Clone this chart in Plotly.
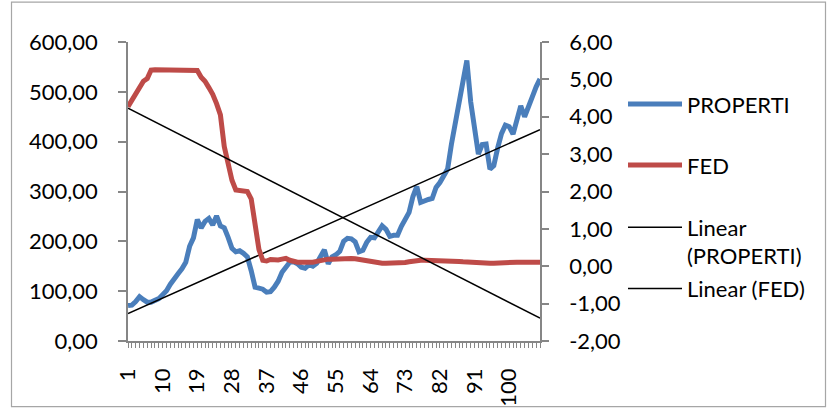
import numpy as np
import plotly.graph_objects as go

# Observation index (1..108)
categories = list(range(1, 109))

# PROPERTI index (left axis)
properti = [71, 72, 79, 89, 83, 78, 78, 81, 85, 93,
            101, 114, 123, 135, 145, 158, 190, 207, 244, 227,
            240, 246, 233, 251, 231, 227, 208, 186, 179, 181,
            176, 169, 141, 108, 106, 104, 98, 99, 108, 120,
            138, 150, 158, 159, 155, 148, 146, 153, 150, 156,
            172, 183, 155, 169, 173, 180, 200, 206, 205, 199,
            179, 182, 198, 208, 207, 217, 231, 224, 210, 212,
            212, 230, 242, 258, 290, 310, 278, 282, 284, 286,
            308, 318, 333, 345, 395, 440, 482, 520, 563, 480,
            425, 375, 394, 395, 345, 352, 387, 416, 433, 430,
            415, 448, 472, 450, 467, 490, 510, 526]

# FED rate (right axis)
fed = [4.27, 4.45, 4.60, 4.80, 4.95, 5.02, 5.25, 5.26, 5.26, 5.25,
       5.25, 5.26, 5.26, 5.25, 5.26, 5.26, 5.26, 5.26, 5.24, 5.06,
       4.95, 4.78, 4.60, 4.35, 4.05, 3.20, 2.72, 2.30, 2.04, 2.02,
       2.02, 2.00, 1.80, 1.15, 0.45, 0.16, 0.14, 0.18, 0.16, 0.17,
       0.19, 0.21, 0.16, 0.13, 0.11, 0.11, 0.10, 0.11, 0.11, 0.13,
       0.16, 0.18, 0.19, 0.19, 0.20, 0.20, 0.21, 0.21, 0.21, 0.20,
       0.18, 0.16, 0.14, 0.12, 0.11, 0.09, 0.08, 0.08, 0.08, 0.08,
       0.08, 0.09, 0.10, 0.12, 0.14, 0.15, 0.16, 0.16, 0.16, 0.16,
       0.15, 0.16, 0.15, 0.14, 0.14, 0.14, 0.13, 0.12, 0.11, 0.10,
       0.09, 0.08, 0.08, 0.08, 0.08, 0.08, 0.09, 0.09, 0.10, 0.10,
       0.10, 0.11, 0.11, 0.11, 0.11, 0.11, 0.11, 0.11]

# Axis tick labels
x_labels = [str(c) if (c - 1) % 9 == 0 else "" for c in categories]
left_ticks = [0, 100, 200, 300, 400, 500, 600]
left_labels = ["0,00", "100,00", "200,00", "300,00", "400,00", "500,00", "600,00"]
right_ticks = [-2, -1, 0, 1, 2, 3, 4, 5, 6]
right_labels = ["-2,00", "-1,00", "0,00", "1,00", "2,00", "3,00", "4,00", "5,00", "6,00"]

BLUE = "#4A7EBB"
RED = "#BE4B48"
AXIS = "#868686"
FONT = "Lato"

# Least-squares linear trends
x_arr = np.array(categories, dtype=float)
trend_p = np.polyval(np.polyfit(x_arr, np.array(properti, dtype=float), 1), x_arr)
trend_f = np.polyval(np.polyfit(x_arr, np.array(fed, dtype=float), 1), x_arr)

fig = go.Figure()
fig.add_trace(go.Scatter(x=categories, y=properti, mode="lines", name="PROPERTI",
                         line=dict(color=BLUE, width=5), yaxis="y", legend="legend"))
fig.add_trace(go.Scatter(x=categories, y=fed, mode="lines", name="FED",
                         line=dict(color=RED, width=5), yaxis="y2", legend="legend2"))
fig.add_trace(go.Scatter(x=categories, y=trend_p, mode="lines", name="Linear<br>(PROPERTI)",
                         line=dict(color="black", width=1.5), yaxis="y", legend="legend3"))
fig.add_trace(go.Scatter(x=categories, y=trend_f, mode="lines", name="Linear (FED)",
                         line=dict(color="black", width=1.5), yaxis="y2", legend="legend4"))

plot_l, plot_r, plot_t, plot_b = 128, 540, 42, 350
W, H = 827, 419


def px_x(px):
    return (px - plot_l) / (plot_r - plot_l)


def px_y(py):
    return (plot_b - py) / (plot_b - plot_t)


def legend_box(py, valign="middle"):
    return dict(x=px_x(623), y=px_y(py), xanchor="left", yanchor="middle",
                bgcolor="rgba(0,0,0,0)", borderwidth=0, itemwidth=54,
                valign=valign, font=dict(family=FONT, size=22, color="black"))


fig.update_layout(
    width=W, height=H,
    margin=dict(l=plot_l, r=W - plot_r, t=plot_t, b=H - plot_b, pad=0),
    paper_bgcolor="white", plot_bgcolor="white",
    font=dict(family=FONT, size=22, color="black"),
    showlegend=True,
    legend=legend_box(106),
    legend2=legend_box(169),
    legend3=legend_box(248, valign="top"),
    legend4=legend_box(296),
    xaxis=dict(range=[1, 108], tickmode="array", tickvals=categories, ticktext=x_labels,
               tickangle=-90, ticks="outside", ticklen=5, tickcolor=AXIS, tickwidth=1,
               showline=True, linecolor=AXIS, linewidth=1.5, showgrid=False,
               zeroline=False, ticklabelstandoff=12,
               tickfont=dict(family=FONT, size=22, color="black")),
    yaxis=dict(range=[0, 600], tickmode="array", tickvals=left_ticks, ticktext=left_labels,
               ticks="outside", ticklen=8, tickcolor=AXIS, tickwidth=1.5,
               showline=True, linecolor=AXIS, linewidth=1.5, showgrid=False,
               zeroline=False, ticklabelstandoff=16,
               tickfont=dict(family=FONT, size=22, color="black")),
    yaxis2=dict(range=[-2, 6], overlaying="y", side="right", anchor="x",
                tickmode="array", tickvals=right_ticks, ticktext=right_labels,
                ticks="outside", ticklen=7, tickcolor=AXIS, tickwidth=1.5,
                showline=True, linecolor=AXIS, linewidth=1.5, showgrid=False,
                zeroline=False, ticklabelstandoff=16,
                tickfont=dict(family=FONT, size=22, color="black")),
    shapes=[dict(type="rect", xref="paper", yref="paper",
                 x0=px_x(11.5), x1=px_x(825.5), y0=px_y(417.5), y1=px_y(1),
                 line=dict(color="#A6A6A6", width=1.2), fillcolor="rgba(0,0,0,0)",
                 layer="below")],
)

fig.write_html("out.html")
